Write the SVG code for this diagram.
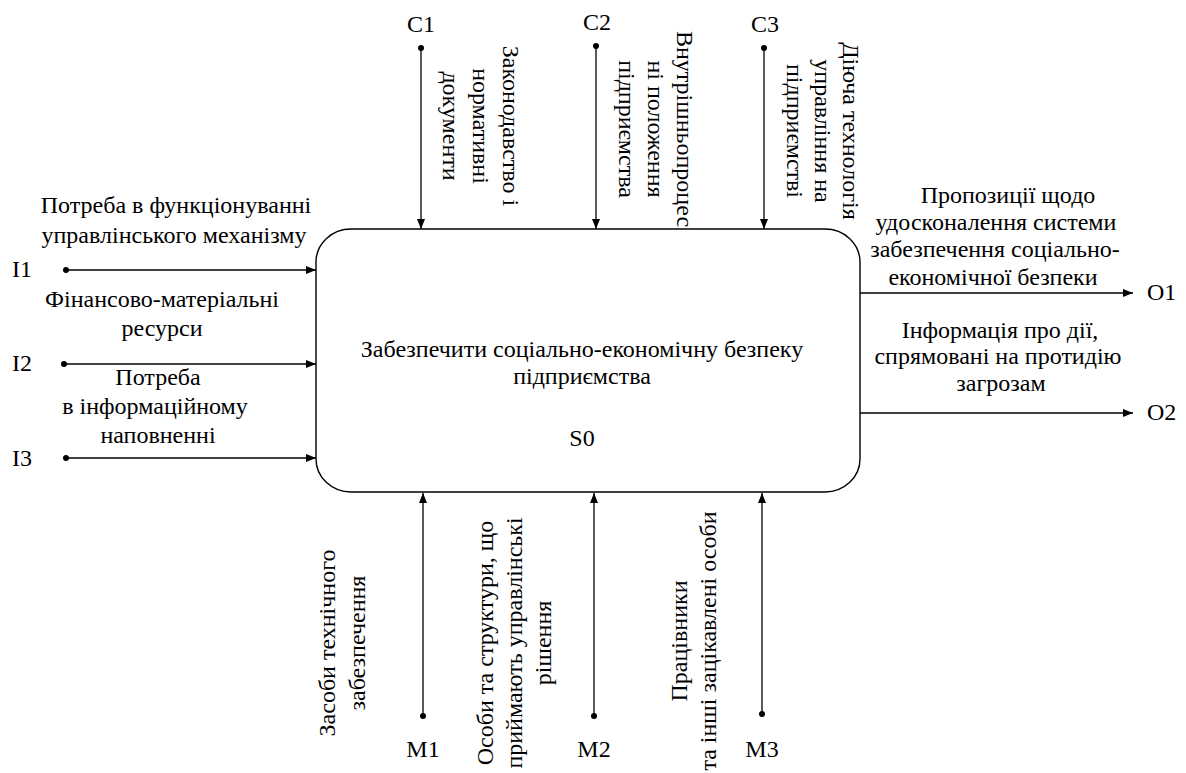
<svg xmlns="http://www.w3.org/2000/svg" width="1186" height="773" viewBox="0 0 1186 773">
<style>
text{font-family:'Liberation Serif','Times New Roman',serif;font-size:24px;fill:#000}
.c{text-anchor:middle}
.ln{stroke:#000;stroke-width:1.3;fill:none;marker-end:url(#arr)}
.dot{fill:#000}
.box{fill:#fff;stroke:#000;stroke-width:1.4}
</style>
<defs>
<marker id="arr" viewBox="0 0 10 8" refX="10" refY="4" markerWidth="10" markerHeight="8" markerUnits="userSpaceOnUse" orient="auto">
<path d="M0,0 L10,4 L0,8 z" fill="#000"/>
</marker>
</defs>
<rect width="1186" height="773" fill="#fff"/>
<g id="node-S0">
<rect class="box" x="316" y="229" width="544" height="263" rx="35" ry="33"/>
<text class="c" x="582" y="357">Забезпечити соціально-економічну безпеку</text>
<text class="c" x="582" y="384">підприємства</text>
<text class="c" x="582" y="446">S0</text>
</g>
<g id="connectors">
<line class="ln" x1="421" y1="48" x2="421" y2="229"/><circle class="dot" cx="421" cy="48" r="3"/>
<line class="ln" x1="596" y1="46" x2="596" y2="229"/><circle class="dot" cx="596" cy="46" r="3"/>
<line class="ln" x1="764" y1="48" x2="764" y2="229"/><circle class="dot" cx="764" cy="48" r="3"/>
<line class="ln" x1="423" y1="716" x2="423" y2="493"/><circle class="dot" cx="423" cy="716" r="3"/>
<line class="ln" x1="594" y1="716" x2="594" y2="493"/><circle class="dot" cx="594" cy="716" r="3"/>
<line class="ln" x1="762" y1="714" x2="762" y2="493"/><circle class="dot" cx="762" cy="714" r="3"/>
<line class="ln" x1="66" y1="270" x2="316" y2="270"/><circle class="dot" cx="66" cy="270" r="3"/>
<line class="ln" x1="64" y1="364" x2="316" y2="364"/><circle class="dot" cx="64" cy="364" r="3"/>
<line class="ln" x1="66" y1="458" x2="316" y2="458"/><circle class="dot" cx="66" cy="458" r="3"/>
<line class="ln" x1="860" y1="293" x2="1133" y2="293"/>
<line class="ln" x1="860" y1="413" x2="1133" y2="413"/>
</g>
<g id="node-C1">
<text class="c" x="421" y="32">C1</text>
<text class="c" transform="translate(503,126) rotate(90)"><tspan x="0" dy="0">Законодавство і</tspan><tspan x="0" dy="30">нормативні</tspan><tspan x="0" dy="30">документи</tspan></text>
</g>
<g id="node-C2">
<text class="c" x="597" y="30">C2</text>
<text class="c" transform="translate(677,129) rotate(90)"><tspan x="0" dy="0">Внутрішньопроцес</tspan><tspan x="0" dy="29">ні положення</tspan><tspan x="0" dy="29">підприємства</tspan></text>
</g>
<g id="node-C3">
<text class="c" x="765" y="32">C3</text>
<text class="c" transform="translate(843,131) rotate(90)"><tspan x="0" dy="0">Діюча технологія</tspan><tspan x="0" dy="28">управління на</tspan><tspan x="0" dy="28">підприємстві</tspan></text>
</g>
<g id="node-M1">
<text class="c" x="423" y="757">M1</text>
<text class="c" transform="translate(335,643) rotate(-90)"><tspan x="0" dy="0">Засоби технічного</tspan><tspan x="0" dy="30">забезпечення</tspan></text>
</g>
<g id="node-M2">
<text class="c" x="594" y="757">M2</text>
<text class="c" transform="translate(493,643) rotate(-90)"><tspan x="0" dy="0">Особи та структури, що</tspan><tspan x="0" dy="29">приймають управлінські</tspan><tspan x="0" dy="29">рішення</tspan></text>
</g>
<g id="node-M3">
<text class="c" x="762" y="757">M3</text>
<text class="c" transform="translate(687,641) rotate(-90)"><tspan x="0" dy="0">Працівники</tspan><tspan x="0" dy="29">та інші зацікавлені особи</tspan></text>
</g>
<g id="node-I1">
<text x="12" y="277">I1</text>
<text class="c" x="176" y="213">Потреба в функціонуванні</text>
<text class="c" x="174" y="243">управлінського механізму</text>
</g>
<g id="node-I2">
<text x="12" y="371">I2</text>
<text class="c" x="162" y="307">Фінансово-матеріальні</text>
<text class="c" x="162" y="336">ресурси</text>
</g>
<g id="node-I3">
<text x="12" y="466">I3</text>
<text class="c" x="158" y="385">Потреба</text>
<text class="c" x="155" y="414">в інформаційному</text>
<text class="c" x="158" y="443">наповненні</text>
</g>
<g id="node-O1">
<text x="1147" y="300">O1</text>
<text class="c" x="1008" y="203">Пропозиції щодо</text>
<text class="c" x="996" y="230">удосконалення системи</text>
<text class="c" x="995" y="257">забезпечення соціально-</text>
<text class="c" x="993" y="285">економічної безпеки</text>
</g>
<g id="node-O2">
<text x="1147" y="420">O2</text>
<text class="c" x="1000" y="338">Інформація про дії,</text>
<text class="c" x="998" y="364">спрямовані на протидію</text>
<text class="c" x="1001" y="391">загрозам</text>
</g>
</svg>
